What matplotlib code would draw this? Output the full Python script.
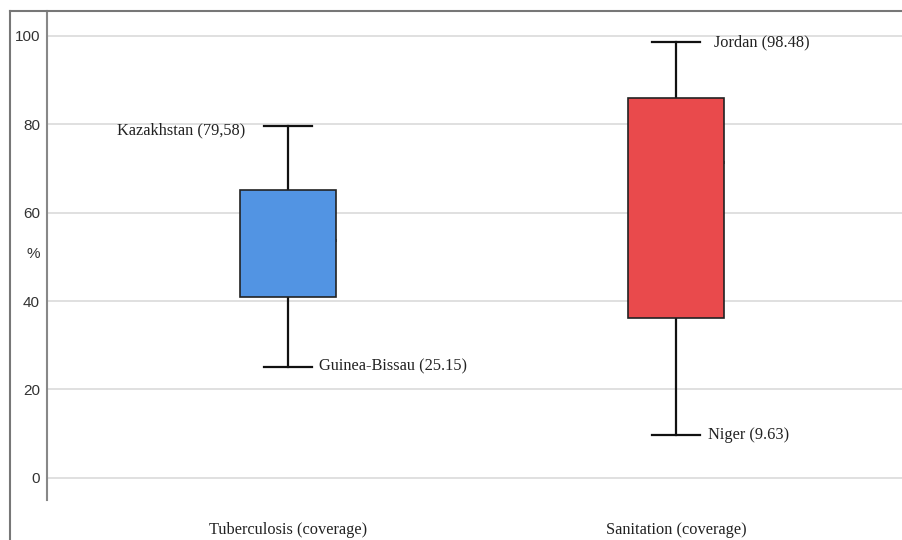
import matplotlib
matplotlib.use('Agg')
from matplotlib import pyplot as plt
from matplotlib.lines import Line2D

categories = ['Tuberculosis (coverage)', 'Sanitation (coverage)']
whisker_low = [25.15, 9.63]
q1 = [41.0, 36.2]
median = [53.8, 71.5]
q3 = [65.2, 86.0]
whisker_high = [79.58, 98.48]
high_labels = ['Kazakhstan (79,58)', 'Jordan (98.48)']
low_labels = ['Guinea-Bissau (25.15)', 'Niger (9.63)']
box_colors = ['#5294e3', '#e94a4c']
yticks = [0, 20, 40, 60, 80, 100]


def coverageBoxplot():
    fig = plt.figure(figsize=(9.03, 5.4), dpi=100)
    ax = fig.add_axes([47 / 903, 40 / 540, 856 / 903, 489 / 540])

    stats = []
    for i, name in enumerate(categories):
        stats.append(dict(label=name, whislo=whisker_low[i], q1=q1[i],
                          med=median[i], q3=q3[i], whishi=whisker_high[i],
                          fliers=[]))

    positions = [1, 2]
    bp = ax.bxp(stats, positions=positions, widths=0.247, capwidths=0.124,
                patch_artist=True, showfliers=False,
                boxprops=dict(edgecolor='#222222', linewidth=1.2),
                medianprops=dict(color='black', linewidth=2.2),
                whiskerprops=dict(color='#111111', linewidth=1.6),
                capprops=dict(color='#111111', linewidth=1.6))
    for patch, c in zip(bp['boxes'], box_colors):
        patch.set_facecolor(c)
        patch.set_zorder(3)

    # value labels at the whisker ends
    txt = dict(family='Liberation Serif', fontsize=11.8, color='#222222',
               va='center')
    ax.text(0.889, whisker_high[0] - 1.0, high_labels[0], ha='right', **txt)
    ax.text(1.08, whisker_low[0], low_labels[0], ha='left', **txt)
    ax.text(2.098, whisker_high[1], high_labels[1], ha='left', **txt)
    ax.text(2.083, whisker_low[1], low_labels[1], ha='left', **txt)

    ax.set_xlim(0.379, 2.585)
    ax.set_ylim(-5.0, 105.6)
    ax.set_yticks(yticks)
    ax.set_yticklabels([str(t) for t in yticks], family='Liberation Sans',
                       fontsize=11, color='#333333')
    ax.tick_params(axis='y', length=0, pad=5)
    ax.tick_params(axis='x', length=0, pad=16)
    ax.set_xticks(positions)
    ax.set_xticklabels(categories, family='Liberation Serif', fontsize=11.8,
                       color='#222222')
    ax.yaxis.grid(True, color='#dddddd', linewidth=1.3)
    ax.set_axisbelow(True)

    for side in ['top', 'right', 'bottom']:
        ax.spines[side].set_visible(False)
    ax.spines['left'].set_color('#888888')
    ax.spines['left'].set_linewidth(1.5)
    ax.spines['left'].set_bounds(-5.0, 105.6)

    ax.set_ylabel('%', rotation=0, family='Liberation Sans', fontsize=11,
                  color='#333333', va='center', ha='center')
    ax.yaxis.set_label_coords(-0.016, 0.503)

    # outer frame, top and left edges
    fx0 = 10 / 903
    fy0 = 1 - 11 / 540
    fig.add_artist(Line2D([fx0, 1], [fy0, fy0], color='#777777', lw=1.5,
                          transform=fig.transFigure))
    fig.add_artist(Line2D([fx0, fx0], [0, fy0], color='#777777', lw=1.5,
                          transform=fig.transFigure))

    fig.savefig('out.png', dpi=100)


def main():
    coverageBoxplot()


if __name__ == "__main__":
    main()
